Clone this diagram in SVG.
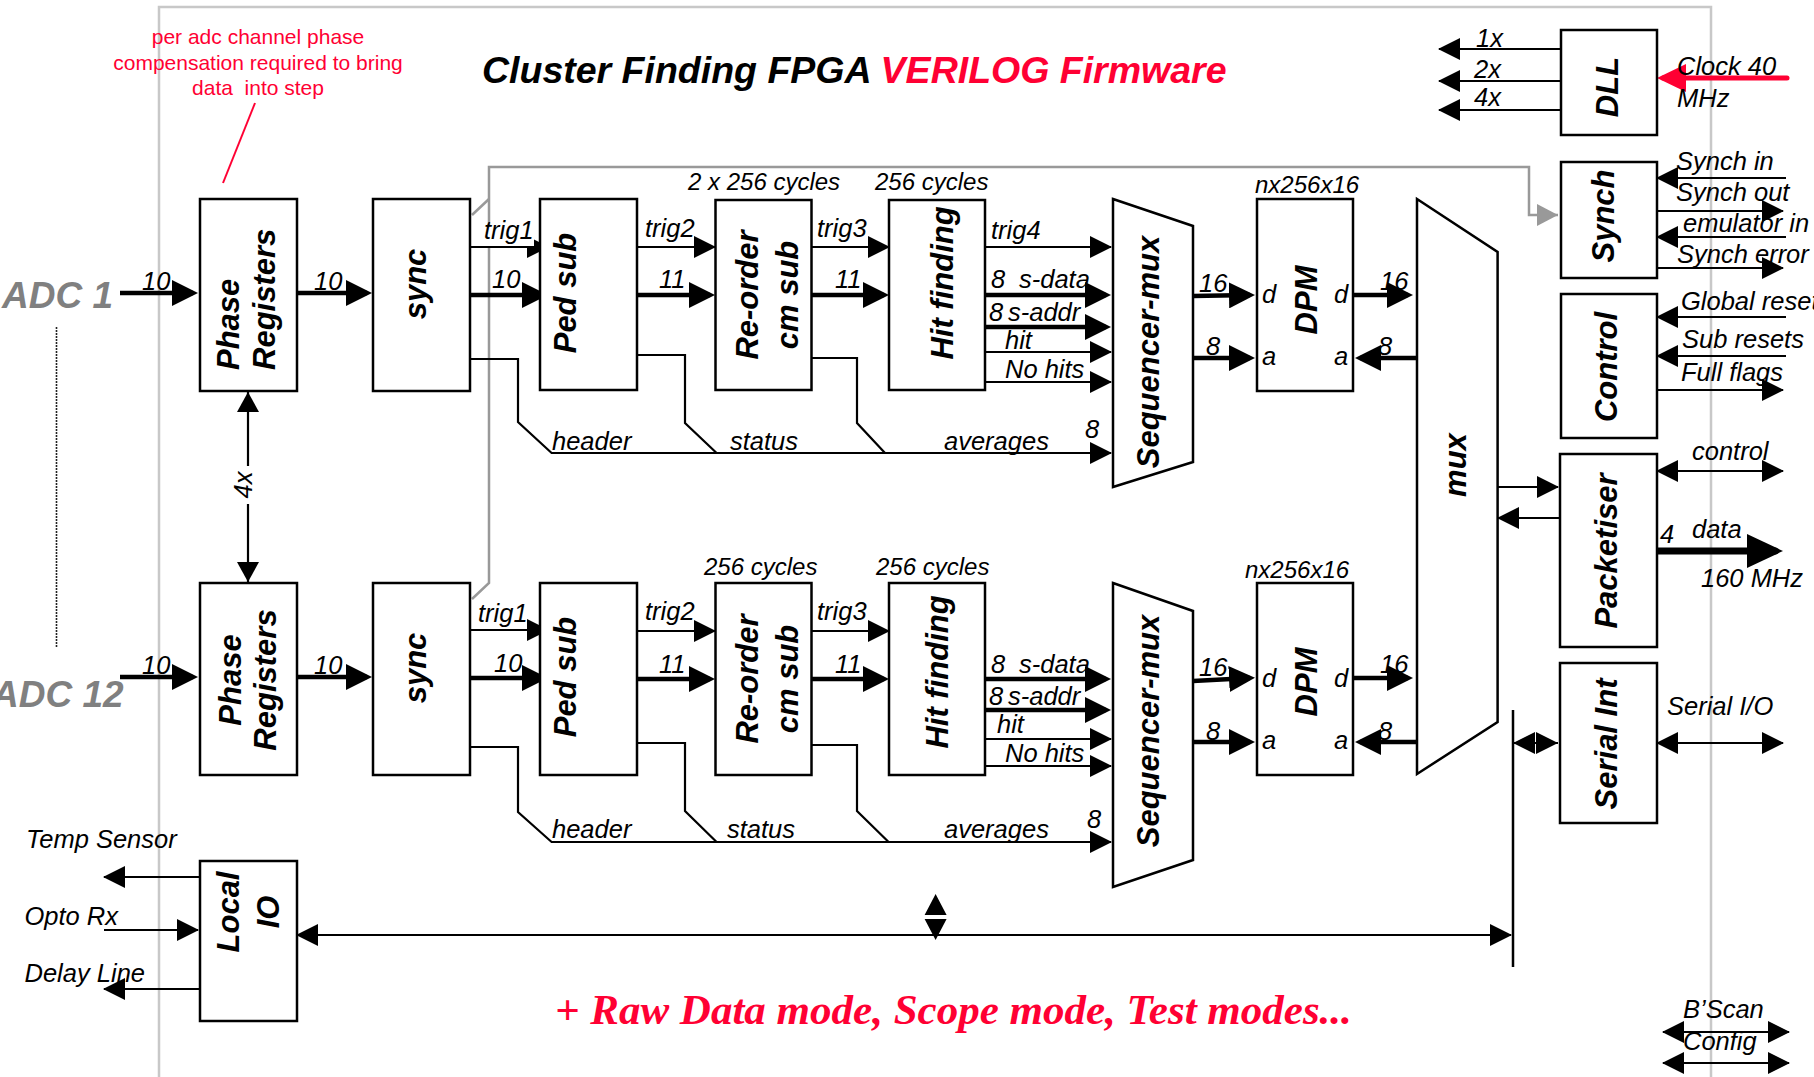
<svg xmlns="http://www.w3.org/2000/svg" width="1814" height="1077" viewBox="0 0 1814 1077">
<style>
text{font-family:"Liberation Sans",Arial,sans-serif}
.box{fill:#fff;stroke:#000;stroke-width:2.5}
.bt{font-size:31px;font-weight:bold;font-style:italic;text-anchor:middle}
.lbl{font-size:25.5px;font-style:italic}
.sm{font-size:24px;font-style:italic}
.thin{stroke:#000;stroke-width:2.2;fill:none;marker-end:url(#ah)}
.thick{stroke:#000;stroke-width:4.5;fill:none;marker-end:url(#ahb)}
.dbl{stroke:#000;stroke-width:2.2;fill:none;marker-start:url(#ah);marker-end:url(#ah)}
.pl{stroke:#000;stroke-width:2.2;fill:none}
.red{fill:#ff0033}
</style>
<defs>
<marker id="ah" markerUnits="userSpaceOnUse" markerWidth="22" markerHeight="22" refX="21" refY="11" orient="auto-start-reverse"><path d="M0,0L22,11L0,22z" fill="#000"/></marker>
<marker id="ahb" markerUnits="userSpaceOnUse" markerWidth="26" markerHeight="26" refX="21" refY="13" orient="auto-start-reverse"><path d="M0,0L26,13L0,26z" fill="#000"/></marker>
<marker id="ahd" markerUnits="userSpaceOnUse" markerWidth="36" markerHeight="34" refX="28" refY="17" orient="auto"><path d="M0,0L36,17L0,34z" fill="#000"/></marker>
<marker id="ahr" markerUnits="userSpaceOnUse" markerWidth="29" markerHeight="28" refX="23" refY="14" orient="auto"><path d="M0,0L29,14L0,28z" fill="#ff0033"/></marker>
<marker id="ahg" markerUnits="userSpaceOnUse" markerWidth="21" markerHeight="22" refX="21" refY="11" orient="auto"><path d="M0,0L21,11L0,22z" fill="#999"/></marker>
<marker id="ah4" markerUnits="userSpaceOnUse" markerWidth="20" markerHeight="22" refX="20" refY="11" orient="auto-start-reverse"><path d="M0,0L20,11L0,22z" fill="#000"/></marker>
</defs>
<rect width="1814" height="1077" fill="#fff"/>

<!-- frame -->
<path d="M159,1080V7H1711V1080" fill="none" stroke="#c8c8c8" stroke-width="2.5"/>

<!-- titles and notes -->
<text x="482" y="83" font-size="37.5" font-weight="bold" font-style="italic">Cluster Finding FPGA <tspan class="red">VERILOG Firmware</tspan></text>
<g class="red" font-size="21" text-anchor="middle">
<text x="258" y="44">per adc channel phase</text>
<text x="258" y="70">compensation required to bring</text>
<text x="258" y="95" xml:space="preserve">data  into step</text>
</g>
<line x1="255" y1="103" x2="223" y2="183" stroke="#ff0033" stroke-width="2"/>
<text x="555" y="1024" font-size="43" font-weight="bold" font-style="italic" fill="#ff0033" style="font-family:'Liberation Serif','Times New Roman',serif">+ Raw Data mode, Scope mode, Test modes...</text>

<text x="2" y="308" font-size="37" font-weight="bold" font-style="italic" fill="#808080">ADC 1</text>
<text x="-8" y="707" font-size="37" font-weight="bold" font-style="italic" fill="#808080">ADC 12</text>
<line x1="56.5" y1="327" x2="56.5" y2="647" stroke="#222" stroke-width="1.6" stroke-dasharray="2 1"/>

<!-- connectors -->
<g id="connectors">
<!-- gray trigger path -->
<polyline points="472,599 489,583 489,167 1529,167 1529,215 1558,215" fill="none" stroke="#999" stroke-width="2.5" marker-end="url(#ahg)"/>
<line x1="472" y1="215" x2="489" y2="199" stroke="#999" stroke-width="2.5"/>

<!-- row 1 -->
<line class="thick" x1="120" y1="293" x2="193" y2="293"/>
<line class="thick" x1="293" y1="293" x2="367" y2="293"/>
<line class="thin" x1="470" y1="247" x2="548" y2="247"/>
<line class="thick" x1="470" y1="295" x2="543" y2="295"/>
<line class="thin" x1="637" y1="247" x2="715" y2="247"/>
<line class="thick" x1="637" y1="295" x2="710" y2="295"/>
<line class="thin" x1="811" y1="247" x2="889" y2="247"/>
<line class="thick" x1="811" y1="295" x2="884" y2="295"/>
<line class="thin" x1="985" y1="247" x2="1111" y2="247" stroke-width="2.8"/>
<line class="thick" x1="985" y1="295" x2="1106" y2="295"/>
<line class="thick" x1="985" y1="327" x2="1106" y2="327"/>
<line class="thin" x1="985" y1="352" x2="1111" y2="352"/>
<line class="thin" x1="985" y1="382" x2="1111" y2="382"/>
<polyline class="thin" points="470,359 518,359 518,422 551.6,453 1111,453"/>
<polyline class="pl" points="637,355 685,355 685,423 716.6,453"/>
<polyline class="pl" points="811,358 857,358 857,423 885,453"/>
<line class="thick" x1="1193" y1="296" x2="1250" y2="295"/>
<line class="thick" x1="1193" y1="358" x2="1250" y2="358"/>
<line class="thick" x1="1353" y1="295" x2="1408" y2="295"/>
<line class="thick" x1="1417" y1="358" x2="1360" y2="358"/>

<!-- row 2 -->
<line class="thick" x1="120" y1="677" x2="193" y2="677"/>
<line class="thick" x1="293" y1="677" x2="367" y2="677"/>
<line class="thin" x1="470" y1="630" x2="548" y2="630"/>
<line class="thick" x1="470" y1="678" x2="543" y2="678"/>
<line class="thin" x1="637" y1="631" x2="715" y2="631"/>
<line class="thick" x1="637" y1="679" x2="710" y2="679"/>
<line class="thin" x1="811" y1="631" x2="889" y2="631"/>
<line class="thick" x1="811" y1="679" x2="884" y2="679"/>
<line class="thick" x1="985" y1="679" x2="1106" y2="679"/>
<line class="thick" x1="985" y1="710" x2="1106" y2="710"/>
<line class="thin" x1="985" y1="739" x2="1111" y2="739"/>
<line class="thin" x1="985" y1="766" x2="1111" y2="766"/>
<polyline class="thin" points="470,747 518,747 518,812 551.6,842 1111,842"/>
<polyline class="pl" points="637,743 685,743 685,811 716.6,842"/>
<polyline class="pl" points="810,745 857,745 857,811 888.6,842"/>
<line class="thick" x1="1193" y1="681" x2="1250" y2="678"/>
<line class="thick" x1="1193" y1="742" x2="1250" y2="742"/>
<line class="thick" x1="1353" y1="678" x2="1408" y2="678"/>
<line class="thick" x1="1417" y1="742" x2="1360" y2="742"/>

<!-- 4x -->
<line x1="248" y1="392" x2="248" y2="582" stroke="#000" stroke-width="2.2" marker-start="url(#ah4)" marker-end="url(#ah4)"/>
<rect x="236" y="466" width="20" height="38" fill="#fff"/>

<!-- mux / packetiser -->
<line class="thin" x1="1497" y1="487" x2="1558" y2="487" stroke-width="3"/>
<line class="thin" x1="1560" y1="518" x2="1498" y2="518" stroke-width="3"/>

<!-- DLL -->
<line class="thin" x1="1568" y1="49" x2="1439" y2="49"/>
<line class="thin" x1="1568" y1="81" x2="1439" y2="81"/>
<line class="thin" x1="1568" y1="110" x2="1439" y2="110"/>
<line x1="1787" y1="78" x2="1663" y2="78" stroke="#ff0033" stroke-width="5" stroke-linecap="round" marker-end="url(#ahr)"/>

<!-- synch / control -->
<line class="thin" x1="1786" y1="178" x2="1657" y2="178"/>
<line class="thin" x1="1657" y1="211" x2="1783" y2="211"/>
<line class="thin" x1="1786" y1="237" x2="1657" y2="237"/>
<line class="thin" x1="1657" y1="268" x2="1783" y2="268"/>
<line class="thin" x1="1786" y1="317" x2="1657" y2="317"/>
<line class="thin" x1="1786" y1="356" x2="1657" y2="356"/>
<line class="thin" x1="1657" y1="390" x2="1783" y2="390"/>
<line class="dbl" x1="1657" y1="471" x2="1783" y2="471"/>
<line x1="1654" y1="551" x2="1775" y2="551" stroke="#000" stroke-width="7" stroke-linecap="round" marker-end="url(#ahd)"/>
<line class="dbl" x1="1657" y1="743" x2="1783" y2="743"/>
<line class="dbl" x1="1663" y1="1032" x2="1789" y2="1032"/>
<line class="dbl" x1="1663" y1="1063" x2="1789" y2="1063"/>

<!-- bus -->
<line x1="1513" y1="710" x2="1513" y2="967" stroke="#000" stroke-width="2.5"/>
<line class="dbl" x1="297" y1="935" x2="1511" y2="935"/>
<path d="M935.6,894L946.6,915H924.6z M924.6,919H946.6L935.6,940z" fill="#000"/>
<line x1="1513" y1="743" x2="1558" y2="743" stroke="#000" stroke-width="2.2"/>
<path d="M1513,743L1535,732V754z M1558,743L1536,732V754z" fill="#000"/>

<!-- local IO -->
<line class="thin" x1="200" y1="877" x2="104" y2="877"/>
<line class="thin" x1="104" y1="930" x2="198" y2="930"/>
<line class="thin" x1="200" y1="989" x2="104" y2="989"/>
</g>

<!-- nodes -->
<g id="phase1"><rect class="box" x="200" y="199" width="97" height="192"/>
<text class="bt" style="text-anchor:start" transform="translate(239,370) rotate(-90)">Phase</text>
<text class="bt" style="text-anchor:start" transform="translate(275,370) rotate(-90)">Registers</text></g>
<g id="sync1"><rect class="box" x="373" y="199" width="97" height="192"/>
<text class="bt" transform="translate(426,284) rotate(-90)">sync</text></g>
<g id="pedsub1"><rect class="box" x="540" y="199" width="97" height="191"/>
<text class="bt" transform="translate(576,293) rotate(-90)">Ped sub</text></g>
<g id="reorder1"><rect class="box" x="715.5" y="200" width="96" height="190"/>
<text class="bt" transform="translate(758,295) rotate(-90)">Re-order</text>
<text class="bt" transform="translate(798,295) rotate(-90)">cm sub</text></g>
<g id="hit1"><rect class="box" x="889" y="200" width="96" height="190"/>
<text class="bt" transform="translate(953,283) rotate(-90)">Hit finding</text></g>
<g id="seqmux1"><polygon class="box" points="1113,199 1193,226 1193,462 1113,487"/>
<text class="bt" transform="translate(1159,352) rotate(-90)">Sequencer-mux</text></g>
<g id="dpm1"><rect class="box" x="1257" y="199" width="96" height="192"/>
<text class="bt" transform="translate(1317,300) rotate(-90)">DPM</text></g>

<g id="phase2"><rect class="box" x="200" y="583" width="97" height="192"/>
<text class="bt" transform="translate(241,680) rotate(-90)">Phase</text>
<text class="bt" transform="translate(276,680) rotate(-90)">Registers</text></g>
<g id="sync2"><rect class="box" x="373" y="583" width="97" height="192"/>
<text class="bt" transform="translate(426,668) rotate(-90)">sync</text></g>
<g id="pedsub2"><rect class="box" x="540" y="583" width="97" height="192"/>
<text class="bt" transform="translate(576,677) rotate(-90)">Ped sub</text></g>
<g id="reorder2"><rect class="box" x="715.5" y="583" width="96" height="192"/>
<text class="bt" transform="translate(758,679) rotate(-90)">Re-order</text>
<text class="bt" transform="translate(798,679) rotate(-90)">cm sub</text></g>
<g id="hit2"><rect class="box" x="889" y="583" width="96" height="192"/>
<text class="bt" transform="translate(948,672) rotate(-90)">Hit finding</text></g>
<g id="seqmux2"><polygon class="box" points="1113,583 1193,611 1193,860 1113,887"/>
<text class="bt" transform="translate(1159,731) rotate(-90)">Sequencer-mux</text></g>
<g id="dpm2"><rect class="box" x="1257" y="583" width="96" height="192"/>
<text class="bt" transform="translate(1317,682) rotate(-90)">DPM</text></g>

<g id="mux"><polygon class="box" points="1417,199 1497.6,252 1497.6,722 1417,774"/>
<text class="bt" transform="translate(1466,465) rotate(-90)">mux</text></g>
<g id="dll"><rect class="box" x="1561" y="30" width="96" height="105"/>
<text class="bt" transform="translate(1618,87) rotate(-90)">DLL</text></g>
<g id="synch"><rect class="box" x="1561" y="162" width="96" height="116"/>
<text class="bt" transform="translate(1614,216) rotate(-90)">Synch</text></g>
<g id="control"><rect class="box" x="1561" y="294" width="96" height="144"/>
<text class="bt" transform="translate(1617,367) rotate(-90)">Control</text></g>
<g id="packetiser"><rect class="box" x="1560" y="454" width="97" height="193"/>
<text class="bt" transform="translate(1617,551) rotate(-90)">Packetiser</text></g>
<g id="serialint"><rect class="box" x="1560" y="663" width="97" height="160"/>
<text class="bt" transform="translate(1617,744) rotate(-90)">Serial Int</text></g>
<g id="localio"><rect class="box" x="200" y="861" width="97" height="160"/>
<text class="bt" transform="translate(239,912) rotate(-90)">Local</text>
<text class="bt" transform="translate(279,912) rotate(-90)">IO</text></g>

<!-- labels -->
<g id="labels">
<text class="lbl" transform="translate(252,485) rotate(-90)" text-anchor="middle" font-size="23">4x</text>
<rect x="484" y="226" width="50" height="20" fill="#fff"/>
<g class="lbl">
<text x="142" y="290">10</text><text x="314" y="290">10</text>
<text x="484" y="239">trig1</text><text x="492" y="288">10</text>
<text x="645" y="237">trig2</text><text x="659" y="288">11</text>
<text x="817" y="237">trig3</text><text x="835" y="288">11</text>
<text x="991" y="239">trig4</text>
<text x="991" y="288">8</text><text x="1019" y="288">s-data</text>
<text x="989" y="321">8</text><text x="1008" y="321">s-addr</text>
<text x="1005" y="349">hit</text>
<text x="1005" y="378">No hits</text>
<text x="552" y="450">header</text>
<text x="730" y="450">status</text>
<text x="944" y="450">averages</text>
<text x="1085" y="438">8</text>
<text x="1199" y="292">16</text><text x="1206" y="355">8</text>
<text x="1262" y="303">d</text><text x="1262" y="365">a</text>
<text x="1334" y="303">d</text><text x="1334" y="365">a</text>
<text x="1380" y="290">16</text><text x="1378" y="355">8</text>

<text x="142" y="674">10</text><text x="314" y="674">10</text>
<text x="478" y="622">trig1</text><text x="494" y="672">10</text>
<text x="645" y="620">trig2</text><text x="659" y="673">11</text>
<text x="817" y="620">trig3</text><text x="835" y="673">11</text>
<text x="991" y="673">8</text><text x="1019" y="673">s-data</text>
<text x="989" y="705">8</text><text x="1008" y="705">s-addr</text>
<text x="997" y="733">hit</text>
<text x="1005" y="762">No hits</text>
<text x="552" y="838">header</text>
<text x="727" y="838">status</text>
<text x="944" y="838">averages</text>
<text x="1087" y="828">8</text>
<text x="1199" y="676">16</text><text x="1206" y="740">8</text>
<text x="1262" y="687">d</text><text x="1262" y="749">a</text>
<text x="1334" y="687">d</text><text x="1334" y="749">a</text>
<text x="1380" y="673">16</text><text x="1378" y="740">8</text>

<text x="1476" y="47">1x</text><text x="1474" y="78">2x</text><text x="1474" y="106">4x</text>
<text x="1677" y="75">Clock 40</text><text x="1677" y="107">MHz</text>
<text x="1676" y="170">Synch in</text>
<text x="1676" y="201">Synch out</text>
<text x="1683" y="232">emulator in</text>
<text x="1677" y="263">Synch error</text>
<text x="1681" y="310">Global reset</text>
<text x="1682" y="348">Sub resets</text>
<text x="1681" y="381">Full flags</text>
<text x="1692" y="460">control</text>
<text x="1660" y="543">4</text><text x="1692" y="538">data</text>
<text x="1701" y="587">160 MHz</text>
<text x="1667" y="715">Serial I/O</text>
<text x="1683" y="1018">B’Scan</text>
<text x="1683" y="1050">Config</text>
<text x="26" y="848">Temp Sensor</text>
<text x="24.5" y="925">Opto Rx</text>
<text x="24.5" y="982">Delay Line</text>
</g>
<g class="sm">
<text x="688" y="190">2 x 256 cycles</text>
<text x="875" y="190">256 cycles</text>
<text x="1255" y="193">nx256x16</text>
<text x="704" y="575">256 cycles</text>
<text x="876" y="575">256 cycles</text>
<text x="1245" y="578">nx256x16</text>
</g>
</g>
</svg>
